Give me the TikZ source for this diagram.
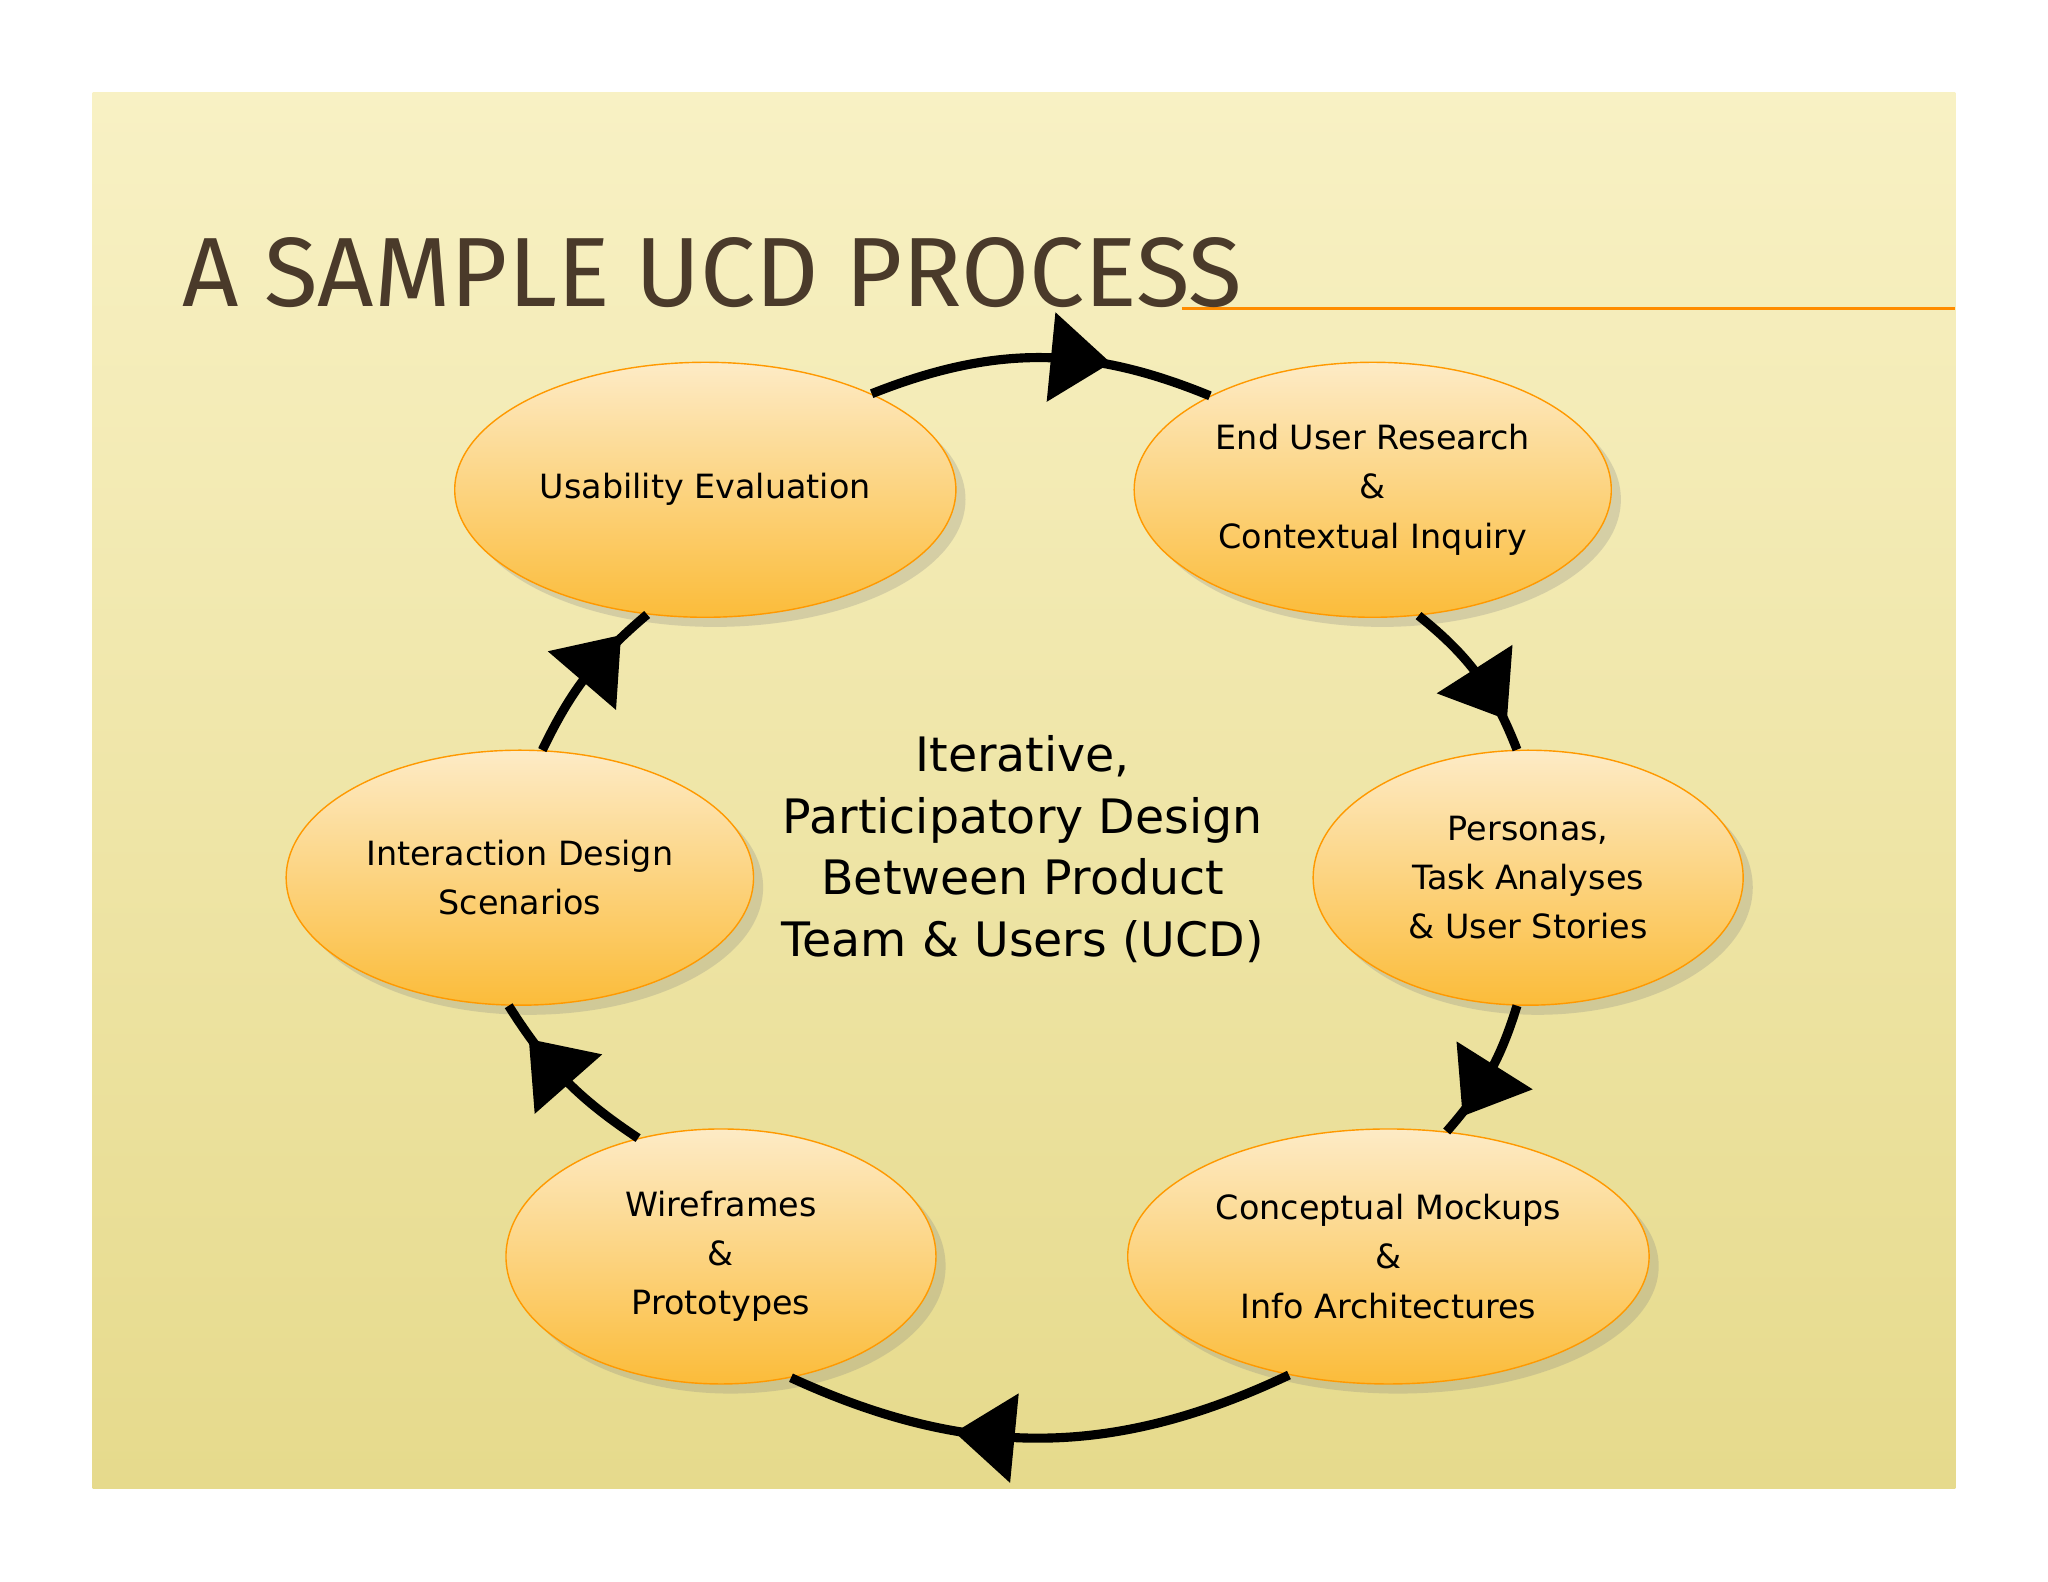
\documentclass[tikz,border=0pt]{standalone}
\usepackage{fontspec}
\setmainfont{DejaVu Sans}
\newfontfamily\titlefont{Fira Sans}
\usetikzlibrary{arrows.meta, shapes.geometric, shadows, positioning}
\definecolor{bgtop}{HTML}{F8F1C4}
\definecolor{bgbot}{HTML}{E6DA8C}
\definecolor{elltop}{HTML}{FDEBC6}
\definecolor{ellbot}{HTML}{FBBC3A}
\definecolor{titlebrown}{HTML}{4A3A2A}
\tikzset{
  phase/.style={ellipse, draw=orange!80!yellow, thin, top color=elltop, bottom color=ellbot,
    minimum width=4.3cm, minimum height=2.55cm, align=center,
    font=\fontsize{9.5}{14}\selectfont, drop shadow={opacity=0.25}},
  cycle/.style={line width=2.6pt, black},
  tip/.style={isosceles triangle, isosceles triangle stretches, fill=black, inner sep=0pt,
    minimum width=9mm, minimum height=6mm, sloped, allow upside down, pos=0.6}
}
\begin{document}
\begin{tikzpicture}[x=0.01306cm, y=0.01306cm]
\useasboundingbox (0,0) rectangle (1568,1211);
\shade[top color=bgtop, bottom color=bgbot] (71,71) rectangle (1497,1140);
\draw[orange!90!yellow, line width=0.8pt] (905,975) -- (1497,975);
\node[anchor=base west, text=titlebrown, font=\titlefont\fontsize{28}{30}\selectfont] (title) at (130,976) {A SAMPLE UCD PROCESS};

% process phases
\node[phase] (ue)  at (540,836) {Usability Evaluation};
\node[phase] (eur) at (1051,836) {End User Research\\\&\\Contextual Inquiry};
\node[phase] (per) at (1170,539) {Personas,\\Task Analyses\\\& User Stories};
\node[phase] (cm)  at (1063,249) {Conceptual Mockups\\\&\\Info Architectures};
\node[phase] (wf)  at (552,249) {Wireframes\\\&\\Prototypes};
\node[phase] (ids) at (398,539) {Interaction Design\\Scenarios};

\node[align=center, font=\fontsize{13.5}{17.5}\selectfont] (centre) at (783,561)
  {Iterative,\\Participatory Design\\Between Product\\Team \& Users (UCD)};

% cycle
\draw[cycle] (ue.30) to[bend left=22] node[tip] {} (eur.150);
\draw[cycle] (eur.-70) to[bend left=15] node[tip] {} (per.95);
\draw[cycle] (per.-95) to[bend left=12] node[tip] {} (cm.65);
\draw[cycle] (cm.-130) to[bend left=25] node[tip] {} (wf.-60);
\draw[cycle] (wf.125) to[bend left=12] node[tip] {} (ids.-95);
\draw[cycle] (ids.80) to[bend left=12] node[tip] {} (ue.-115);
\end{tikzpicture}
\end{document}
